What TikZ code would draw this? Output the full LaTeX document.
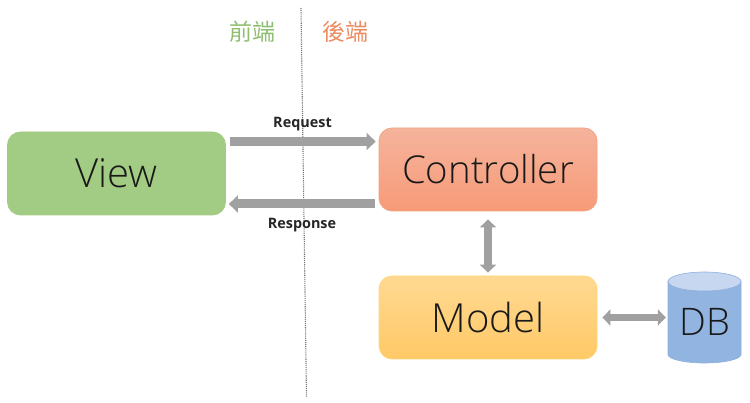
\documentclass[tikz,border=0pt]{standalone}
\usepackage{fontspec}
\setmainfont{Open Sans Light}
\newfontfamily\boldf{Open Sans}
\newfontfamily\cjk{Noto Sans CJK TC}
\usetikzlibrary{arrows.meta}
\definecolor{flowgray}{HTML}{A0A0A0}
\definecolor{PGgreen}{HTML}{A2CB84}
\definecolor{ctrlline}{HTML}{F2A282}
\definecolor{ctrltop}{HTML}{F5B49C}
\definecolor{ctrlbot}{HTML}{F79A78}
\definecolor{modelline}{HTML}{FFD67A}
\definecolor{modeltop}{HTML}{FFD992}
\definecolor{modelbot}{HTML}{FFC966}
\definecolor{dbtop}{HTML}{C6D7EF}
\definecolor{dbbody}{HTML}{92B4E0}
\definecolor{dbline}{HTML}{8FB0DC}
\definecolor{frontc}{HTML}{8FBE70}
\definecolor{backc}{HTML}{EC8C60}
\tikzset{
  x=1pt,y=-1pt,
  box/.style={rounded corners=13pt,minimum width=218pt,minimum height=83pt,inner sep=0pt,line width=0.8pt,text=black!90,font=\fontsize{40}{40}\selectfont},
  viewbox/.style={box,draw=PGgreen,fill=PGgreen},
  ctrlbox/.style={box,draw=ctrlline,top color=ctrltop,bottom color=ctrlbot,font=\fontsize{38.4}{40}\selectfont},
  modelbox/.style={box,draw=modelline,top color=modeltop,bottom color=modelbot},
  flow/.style={draw=flowgray,line width=9pt,-{Triangle[width=17pt,length=9pt]}},
  both/.style={draw=flowgray,line width=7.5pt,{Triangle[width=16pt,length=8pt]}-{Triangle[width=16pt,length=8pt]}},
  flowlabel/.style={font=\boldf\bfseries\fontsize{14.4}{15}\selectfont,text=black!85,inner sep=0pt},
  sidelabel/.style={font=\cjk\fontsize{23}{23}\selectfont,inner sep=0pt},
  divider/.style={draw=black!55,line width=1.1pt,dash pattern=on 1.1pt off 1pt},
  dbnode/.style={minimum width=73pt,minimum height=91pt,inner sep=0pt}
}
\begin{document}
\begin{tikzpicture}
\useasboundingbox (0,0) rectangle (750,403);
\fill[white] (0,0) rectangle (750,403);
\coordinate (divtop) at (301,8);
\coordinate (divbot) at (306.5,397);
\draw[divider] (divtop) -- (divbot);
\node[sidelabel,text=frontc] (front) at (252,32) {前端};
\node[sidelabel,text=backc] (back) at (345,32) {後端};
\node[viewbox] (view) at (116.5,173.5) {View};
\node[ctrlbox] (ctrl) at (488,169.5) {Controller};
\node[modelbox] (model) at (488,317.5) {Model};
% database cylinder
\path[draw=dbline,line width=0.6pt,fill=dbbody] (668,281.5) -- (668,354.5) arc[start angle=180,end angle=360,x radius=36.5pt,y radius=8.5pt] -- (741,281.5) -- cycle;
\path[draw=dbline,line width=0.6pt,fill=dbtop] (704.5,281.5) ellipse[x radius=36.5pt,y radius=9.5pt];
\node[dbnode] (db) at (704.5,317.5) {};
\node[font=\fontsize{38}{40}\selectfont,text=black!90,inner sep=0pt] (dbt) at (704.5,322) {DB};
\draw[flow] ([shift={(4,-32)}]view.east) -- ([shift={(-3,-28)}]ctrl.west);
\draw[flow] ([shift={(-4,34.5)}]ctrl.west) -- ([shift={(3,30.5)}]view.east);
\draw[both] ([yshift=-8pt]ctrl.south) -- ([yshift=3pt]model.north);
\draw[both] ([xshift=5pt]model.east) -- ([xshift=-2pt]db.west |- model.east);
\node[flowlabel] (req) at (302.5,124) {Request};
\node[flowlabel] (res) at (302,225) {Response};
\end{tikzpicture}
\end{document}
